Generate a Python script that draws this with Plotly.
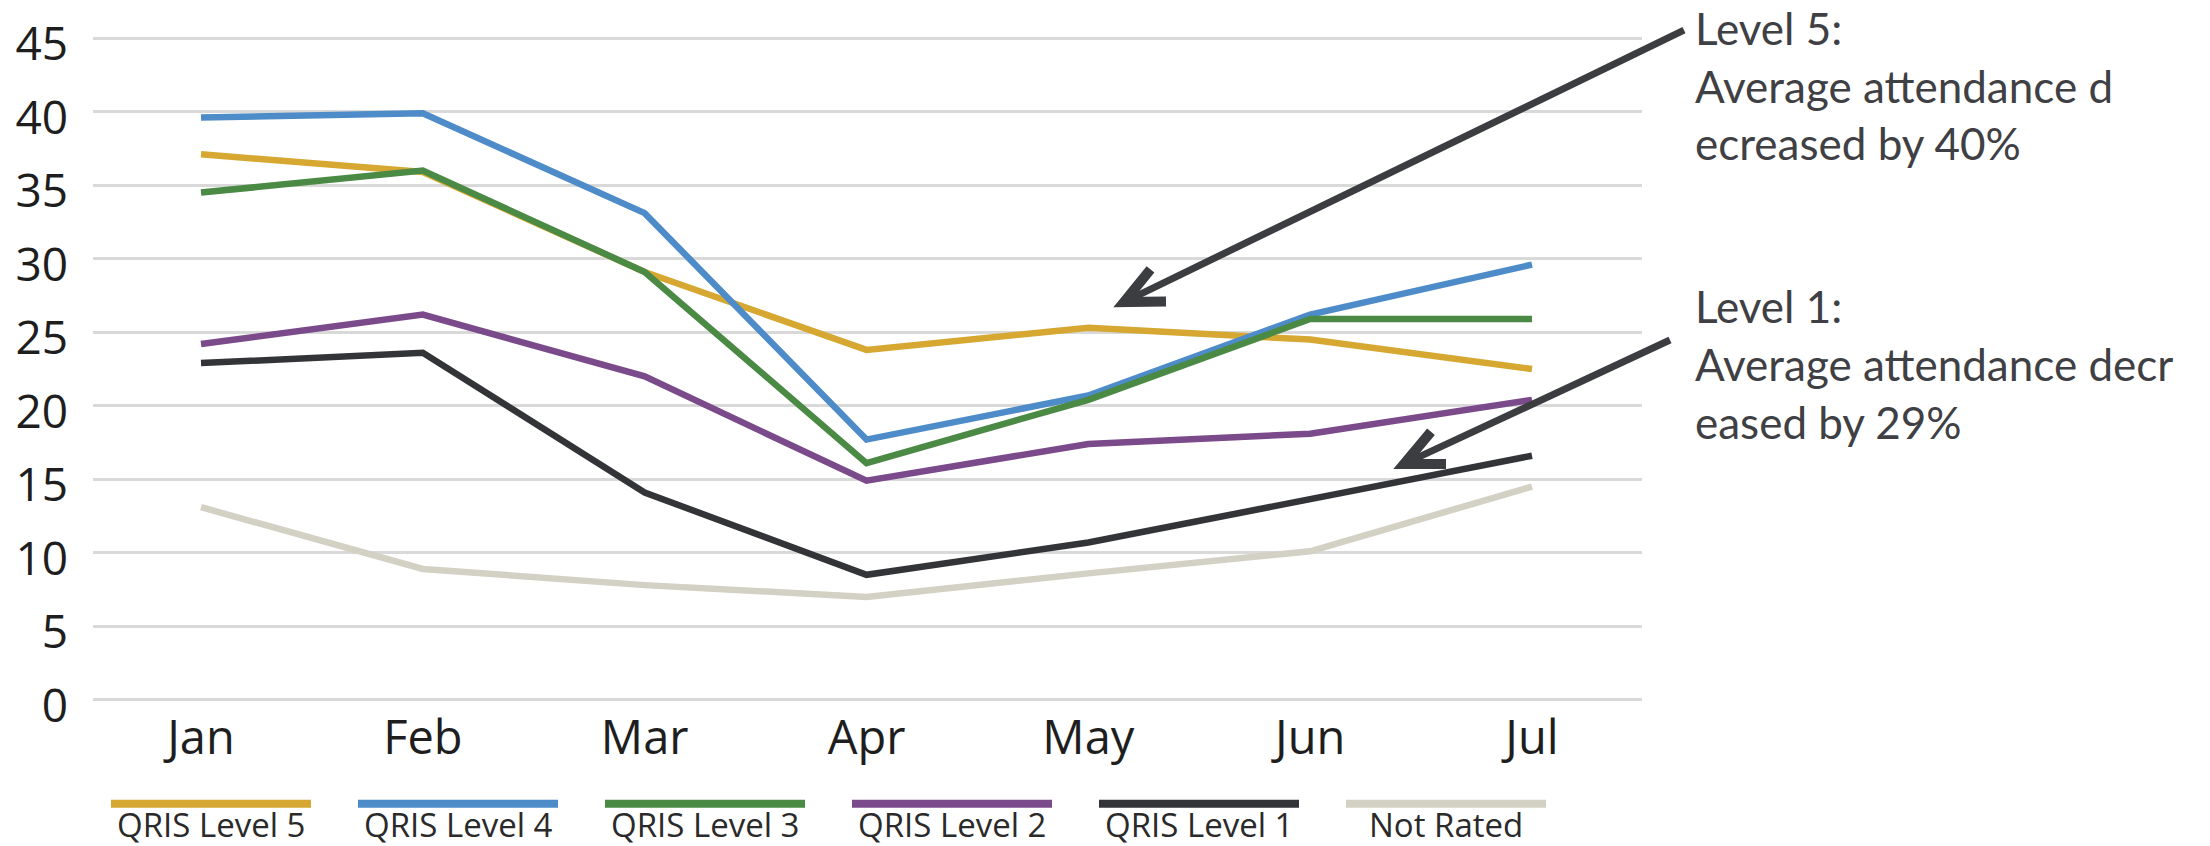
import math
import plotly.graph_objects as go

# ---------------- data ----------------
months = ["Jan", "Feb", "Mar", "Apr", "May", "Jun", "Jul"]
series_names = ["QRIS Level 5", "QRIS Level 4", "QRIS Level 3", "QRIS Level 2", "QRIS Level 1", "Not Rated"]
level5 = [37.1, 35.9, 29.1, 23.8, 25.3, 24.5, 22.5]
level4 = [39.6, 39.9, 33.1, 17.7, 20.7, 26.2, 29.6]
level3 = [34.5, 36.0, 29.1, 16.1, 20.4, 25.9, 25.9]
level2 = [24.2, 26.2, 22.0, 14.9, 17.4, 18.1, 20.4]
level1 = [22.9, 23.6, 14.1, 8.5, 10.7, 13.7, 16.6]
not_rated = [13.1, 8.9, 7.8, 7.0, 8.6, 10.1, 14.5]
y_ticks = [0, 5, 10, 15, 20, 25, 30, 35, 40, 45]

colors = {
    "QRIS Level 5": "#D6A832",
    "QRIS Level 4": "#4D8BC9",
    "QRIS Level 3": "#4A8A45",
    "QRIS Level 2": "#7A4A8A",
    "QRIS Level 1": "#333438",
    "Not Rated": "#D3D0C4",
}
values = {
    "QRIS Level 5": level5,
    "QRIS Level 4": level4,
    "QRIS Level 3": level3,
    "QRIS Level 2": level2,
    "QRIS Level 1": level1,
    "Not Rated": not_rated,
}

# ---------------- layout geometry (pixels) ----------------
W, H = 2210, 846
Y0_PX, Y45_PX = 700, 38          # pixel rows of the 0 and 45 gridlines
ppu = (Y0_PX - Y45_PX) / 45.0    # pixels per unit
pad_u = 0.15                     # small padding so edge gridlines are drawn
L, R = 93, 1642
T = Y45_PX - pad_u * ppu
B = Y0_PX + pad_u * ppu


def pxx(x):
    return (x - L) / (R - L)


def pxy(y):
    return (B - y) / (B - T)


fig = go.Figure()
draw_order = ["Not Rated", "QRIS Level 1", "QRIS Level 2", "QRIS Level 5", "QRIS Level 4", "QRIS Level 3"]
for name in draw_order:
    fig.add_trace(go.Scatter(
        x=months, y=values[name], mode="lines", name=name,
        line=dict(color=colors[name], width=6.5),
        showlegend=False,
    ))

shapes = []
annotations = []

# custom legend: swatch line above label
leg_x0, leg_step, sw_half = 211, 247, 100
for i, name in enumerate(series_names):
    cx = leg_x0 + i * leg_step
    shapes.append(dict(type="line", xref="paper", yref="paper",
                       x0=pxx(cx - sw_half), x1=pxx(cx + sw_half), y0=pxy(804), y1=pxy(804),
                       line=dict(color=colors[name], width=8)))
    annotations.append(dict(text=name, xref="paper", yref="paper", x=pxx(cx), y=pxy(825),
                            xanchor="center", yanchor="middle", showarrow=False,
                            font=dict(family="Open Sans", size=33, color="#2a2a2a")))

# arrows
arrow_col = "#3c3d41"


def arrow(x_start, y_start, x_tip, y_tip):
    shapes.append(dict(type="line", xref="paper", yref="paper",
                       x0=pxx(x_start), y0=pxy(y_start), x1=pxx(x_tip), y1=pxy(y_tip),
                       line=dict(color=arrow_col, width=7)))
    ang = math.atan2(y_start - y_tip, x_start - x_tip)
    alen, half = 42, math.radians(25)
    a1 = (x_tip + alen * math.cos(ang - half), y_tip + alen * math.sin(ang - half))
    a2 = (x_tip + alen * math.cos(ang + half), y_tip + alen * math.sin(ang + half))
    path = "M {} {} L {} {} L {} {}".format(pxx(a1[0]), pxy(a1[1]), pxx(x_tip), pxy(y_tip),
                                             pxx(a2[0]), pxy(a2[1]))
    shapes.append(dict(type="path", xref="paper", yref="paper", path=path,
                       line=dict(color=arrow_col, width=10)))


arrow(1684, 30, 1124, 302)
arrow(1670, 340, 1404, 464)

text_font = dict(family="Lato", size=44, color="#3f4044")
blocks = [
    (["Level 5:", "Average attendance d", "ecreased by 40%"], [28, 86, 143]),
    (["Level 1:", "Average attendance decr", "eased by 29%"], [306, 364, 422]),
]
for lines, ys in blocks:
    for txt, yy in zip(lines, ys):
        annotations.append(dict(text=txt, xref="paper", yref="paper", x=pxx(1693), y=pxy(yy),
                                xanchor="left", yanchor="middle", showarrow=False, font=text_font))

n = len(months)
step = (1532 - 201) / (n - 1)
x_lo = -(201 - L) / step
x_hi = (n - 1) + (R - 1532) / step

fig.update_layout(
    width=W, height=H,
    margin=dict(l=L, r=W - R, t=T, b=H - B, pad=0),
    paper_bgcolor="white", plot_bgcolor="white",
    shapes=shapes, annotations=annotations,
    showlegend=False,
    xaxis=dict(range=[x_lo, x_hi], showgrid=False, zeroline=False, showline=False,
               tickfont=dict(family="Open Sans", size=47, color="#1e1e1e"),
               ticks="", ticklabelstandoff=4),
    yaxis=dict(range=[-pad_u, 45 + pad_u], tickvals=y_ticks, showgrid=True,
               gridcolor="#d9d9d9", gridwidth=3,
               zeroline=True, zerolinecolor="#d9d9d9", zerolinewidth=3, showline=False,
               tickfont=dict(family="Open Sans", size=46, color="#1e1e1e"),
               ticks="", ticklabelstandoff=24, ticklabelshift=6),
)

fig.write_html("out.html")
